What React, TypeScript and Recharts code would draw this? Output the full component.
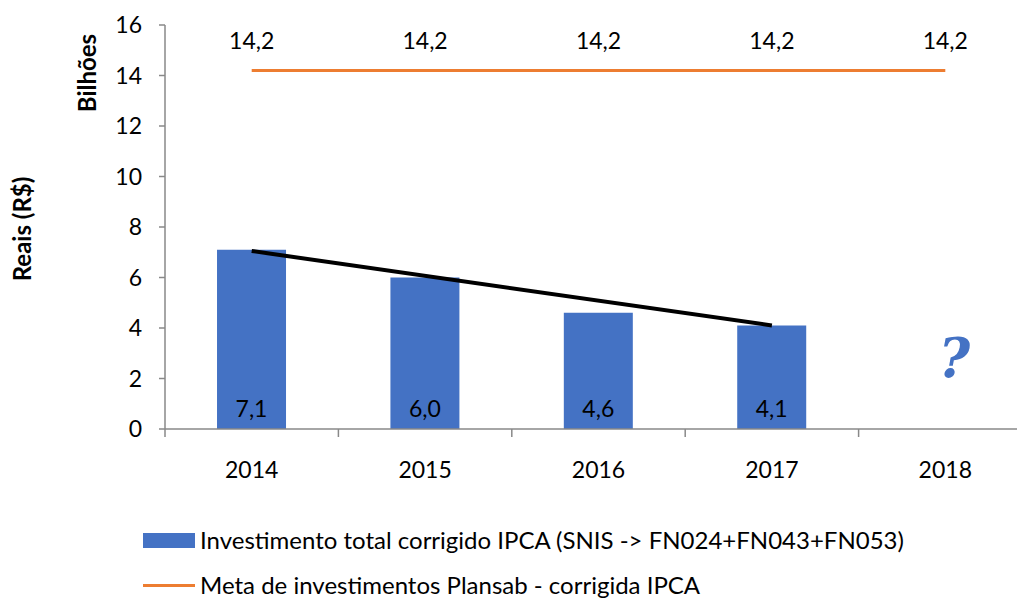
import React from "react";
import {
  ComposedChart,
  Bar,
  Line,
  XAxis,
  YAxis,
  LabelList,
  Legend,
  Label,
  ReferenceDot,
} from "recharts";

const years = ["2014", "2015", "2016", "2017", "2018"];
const investimento = [7.1, 6.0, 4.6, 4.1, null];
const meta = [14.2, 14.2, 14.2, 14.2, 14.2];
const tendencia = [7.05, null, null, 4.1, null];
const yTicks = [0, 2, 4, 6, 8, 10, 12, 14, 16];

const nameBar = "Investimento total corrigido IPCA (SNIS -> FN024+FN043+FN053)";
const nameMeta = "Meta de investimentos Plansab - corrigida IPCA";

const data = years.map((y, i) => ({
  year: y,
  invest: investimento[i],
  meta: meta[i],
  trend: tendencia[i],
}));

const FONT = "Lato, 'Open Sans', sans-serif";
const AXIS = "#898989";
const BLUE = "#4472C4";
const ORANGE = "#ED7D31";
const FS = 23;

const CHART_W = 1040;
const MARGIN_R = 8;
const Y_W = 165;
const BAND = (CHART_W - Y_W - MARGIN_R) / years.length;

const fmt = (v: any) => (v == null ? "" : Number(v).toFixed(1).replace(".", ","));

const XTick = (props: any) => {
  const { x, y, payload } = props;
  return (
    <g>
      <line x1={x - BAND / 2} y1={y - 8} x2={x - BAND / 2} y2={y} stroke={AXIS} strokeWidth={1.5} />
      <text x={x} y={y + 41} textAnchor="middle" fontSize={FS} fontFamily={FONT} fill="#000">
        {payload.value}
      </text>
    </g>
  );
};

const LegendContent = () => (
  <div style={{ fontFamily: FONT, fontSize: 24, color: "#000", lineHeight: "26px", whiteSpace: "nowrap" }}>
    <div style={{ display: "flex", alignItems: "center", height: 26 }}>
      <span style={{ display: "inline-block", width: 52, height: 15, background: BLUE, marginRight: 5 }} />
      <span>{nameBar}</span>
    </div>
    <div style={{ display: "flex", alignItems: "center", height: 26, marginTop: 19 }}>
      <span style={{ display: "inline-block", width: 52, height: 3, background: ORANGE, marginRight: 5 }} />
      <span>{nameMeta}</span>
    </div>
  </div>
);

export default function App() {
  return (
    <div style={{ position: "fixed", left: 0, top: 0, width: 1017, height: 599, overflow: "hidden", background: "#fff" }}>
      <ComposedChart
        width={CHART_W}
        height={599}
        data={data}
        margin={{ top: 25, right: MARGIN_R, left: 0, bottom: 130 }}
        barCategoryGap="30%"
      >
        <XAxis
          dataKey="year"
          height={40}
          stroke={AXIS}
          strokeWidth={1.5}
          tickLine={false}
          tick={<XTick />}
          interval={0}
        />
        <YAxis
          width={Y_W}
          domain={[0, 16]}
          ticks={yTicks}
          stroke={AXIS}
          strokeWidth={1.5}
          tickSize={6}
          tickMargin={17}
          tick={{ fontSize: FS, fontFamily: FONT, fill: "#000" }}
          interval={0}
        >
          <Label
            content={() => (
              <g>
                <text
                  x={0}
                  y={0}
                  transform="translate(31,229) rotate(-90)"
                  textAnchor="middle"
                  fontSize={24}
                  fontWeight="bold"
                  fontFamily={FONT}
                  fill="#000"
                >
                  Reais (R$)
                </text>
                <text
                  x={0}
                  y={0}
                  transform="translate(96,73) rotate(-90)"
                  textAnchor="middle"
                  fontSize={24}
                  fontWeight="bold"
                  fontFamily={FONT}
                  fill="#000"
                >
                  Bilhões
                </text>
              </g>
            )}
          />
        </YAxis>
        <Bar dataKey="invest" name={nameBar} fill={BLUE} isAnimationActive={false}>
          <LabelList
            dataKey="invest"
            position="insideBottom"
            offset={12}
            formatter={fmt}
            style={{ fontSize: FS, fontFamily: FONT, fill: "#000" }}
          />
        </Bar>
        <Line
          dataKey="meta"
          name={nameMeta}
          stroke={ORANGE}
          strokeWidth={3}
          dot={false}
          activeDot={false}
          isAnimationActive={false}
        >
          <LabelList
            dataKey="meta"
            position="top"
            offset={21}
            formatter={fmt}
            style={{ fontSize: FS, fontFamily: FONT, fill: "#000" }}
          />
        </Line>
        <Line
          dataKey="trend"
          stroke="#000"
          strokeWidth={4}
          dot={false}
          activeDot={false}
          connectNulls
          legendType="none"
          isAnimationActive={false}
        />
        <ReferenceDot
          x="2018"
          y={2.8}
          r={0}
          stroke="none"
          fill="none"
          label={{
            value: "?",
            position: "center",
            dx: 9,
            fontSize: 54,
            fontWeight: "bold",
            fontStyle: "italic",
            fontFamily: "'DejaVu Serif', 'Liberation Serif', serif",
            fill: BLUE,
          }}
        />
        <Legend
          layout="vertical"
          align="center"
          verticalAlign="middle"
          wrapperStyle={{ left: 143, top: 527, width: 870 }}
          content={<LegendContent />}
        />
      </ComposedChart>
    </div>
  );
}
